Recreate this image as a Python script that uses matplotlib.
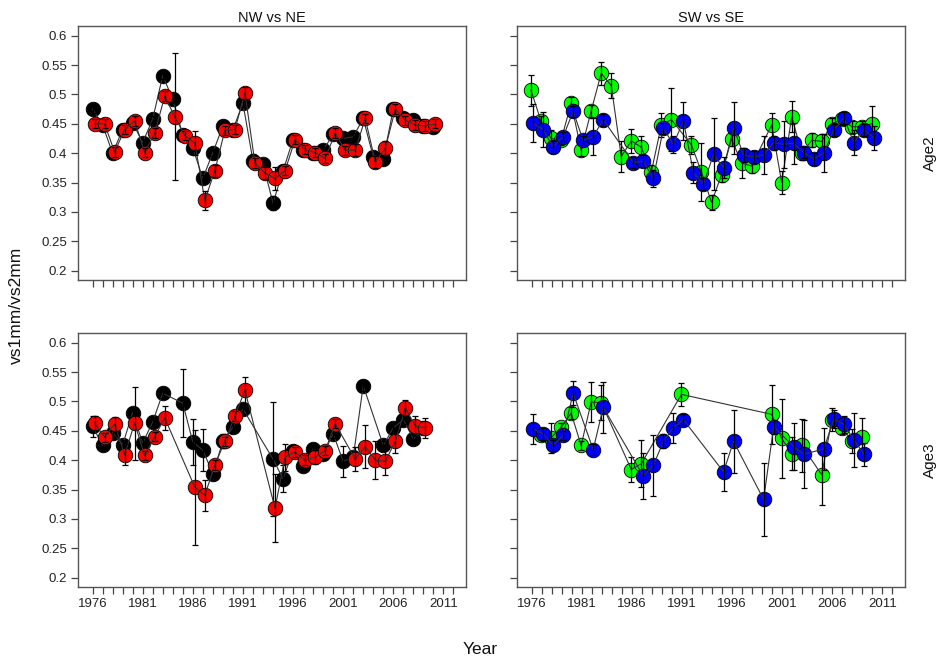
import numpy as np
import matplotlib
matplotlib.use("Agg")
import matplotlib.pyplot as plt

plt.rcParams['font.family'] = ['Liberation Sans', 'DejaVu Sans']

# ---- Age2 ----
nw2_years = list(range(1976, 2011))
nw2_vals = [0.475, 0.448, 0.400, 0.440, 0.452, 0.418, 0.458, 0.532, 0.492, 0.431,
            0.409, 0.357, 0.401, 0.446, 0.440, 0.485, 0.387, 0.382, 0.315, 0.370,
            0.423, 0.406, 0.401, 0.405, 0.432, 0.425, 0.428, 0.459, 0.394, 0.390,
            0.475, 0.460, 0.456, 0.446, 0.445]
nw2_err = [0.006, 0.006, 0.006, 0.006, 0.006, 0.006, 0.006, 0.006, 0.006, 0.006,
           0.006, 0.006, 0.006, 0.006, 0.006, 0.006, 0.012, 0.006, 0.012, 0.006,
           0.006, 0.006, 0.006, 0.006, 0.006, 0.006, 0.006, 0.006, 0.008, 0.006,
           0.006, 0.006, 0.006, 0.006, 0.006]

ne2_years = list(range(1976, 2011))
ne2_vals = [0.450, 0.450, 0.402, 0.440, 0.455, 0.401, 0.434, 0.497, 0.462, 0.430,
            0.417, 0.320, 0.370, 0.439, 0.440, 0.503, 0.383, 0.366, 0.357, 0.370,
            0.423, 0.406, 0.401, 0.391, 0.434, 0.405, 0.405, 0.459, 0.385, 0.408,
            0.475, 0.456, 0.448, 0.446, 0.450]
ne2_err = [0.008, 0.008, 0.008, 0.008, 0.008, 0.008, 0.008, 0.008, 0.108, 0.008,
           0.020, 0.016, 0.010, 0.008, 0.008, 0.010, 0.008, 0.010, 0.020, 0.008,
           0.008, 0.008, 0.008, 0.008, 0.008, 0.008, 0.010, 0.008, 0.010, 0.012,
           0.008, 0.008, 0.008, 0.008, 0.008]

sw2_years = [1976, 1977, 1978, 1979, 1980, 1981, 1982, 1983, 1984, 1985, 1986, 1987,
             1988, 1989, 1990, 1992, 1993, 1994, 1995, 1996, 1997, 1998, 2000, 2001,
             2002, 2003, 2004, 2005, 2006, 2007, 2008, 2009, 2010]
sw2_vals = [0.507, 0.454, 0.425, 0.422, 0.485, 0.405, 0.472, 0.536, 0.515, 0.394,
            0.421, 0.410, 0.368, 0.448, 0.457, 0.414, 0.368, 0.316, 0.363, 0.424,
            0.383, 0.378, 0.448, 0.350, 0.462, 0.400, 0.422, 0.420, 0.450, 0.458,
            0.445, 0.445, 0.450]
sw2_err = [0.026, 0.010, 0.015, 0.008, 0.010, 0.010, 0.010, 0.020, 0.021, 0.026,
           0.020, 0.020, 0.012, 0.020, 0.054, 0.015, 0.050, 0.012, 0.012, 0.012,
           0.025, 0.012, 0.020, 0.020, 0.026, 0.012, 0.012, 0.012, 0.010, 0.010,
           0.010, 0.010, 0.030]

se2_years = [1976, 1977, 1978, 1979, 1980, 1981, 1982, 1983, 1986, 1987, 1988, 1989,
             1990, 1991, 1992, 1993, 1994, 1995, 1996, 1997, 1998, 1999, 2000, 2001,
             2002, 2003, 2004, 2005, 2006, 2007, 2008, 2009, 2010]
se2_vals = [0.451, 0.440, 0.411, 0.428, 0.471, 0.422, 0.428, 0.457, 0.384, 0.386,
            0.357, 0.442, 0.415, 0.455, 0.367, 0.347, 0.398, 0.375, 0.443, 0.397,
            0.393, 0.397, 0.418, 0.415, 0.417, 0.401, 0.390, 0.400, 0.440, 0.460,
            0.418, 0.440, 0.426]
se2_err = [0.032, 0.030, 0.010, 0.008, 0.010, 0.008, 0.031, 0.010, 0.010, 0.010,
           0.015, 0.010, 0.015, 0.032, 0.018, 0.010, 0.061, 0.018, 0.044, 0.012,
           0.010, 0.032, 0.012, 0.040, 0.035, 0.010, 0.010, 0.032, 0.010, 0.010,
           0.022, 0.010, 0.020]

# ---- Age3 ----
nw3_years = [1976, 1977, 1978, 1979, 1980, 1981, 1982, 1983, 1985, 1986, 1987, 1988,
             1989, 1990, 1991, 1994, 1995, 1996, 1997, 1998, 1999, 2000, 2001, 2002,
             2003, 2005, 2006, 2007, 2008, 2009]
nw3_vals = [0.458, 0.425, 0.447, 0.426, 0.481, 0.429, 0.465, 0.514, 0.497, 0.431,
            0.417, 0.377, 0.432, 0.456, 0.487, 0.402, 0.368, 0.416, 0.390, 0.419,
            0.410, 0.445, 0.398, 0.405, 0.527, 0.425, 0.455, 0.469, 0.436, 0.455]
nw3_err = [0.018, 0.008, 0.008, 0.008, 0.008, 0.008, 0.008, 0.008, 0.058, 0.039,
           0.036, 0.008, 0.012, 0.008, 0.008, 0.097, 0.023, 0.008, 0.010, 0.008,
           0.008, 0.008, 0.026, 0.008, 0.010, 0.008, 0.008, 0.008, 0.008, 0.008]

ne3_years = [1976, 1977, 1978, 1979, 1980, 1981, 1982, 1983, 1986, 1987, 1988, 1989,
             1990, 1991, 1994, 1995, 1996, 1997, 1998, 1999, 2000, 2002, 2003, 2004,
             2005, 2006, 2007, 2008, 2009]
ne3_vals = [0.463, 0.439, 0.462, 0.409, 0.463, 0.408, 0.440, 0.472, 0.354, 0.340,
            0.392, 0.432, 0.475, 0.519, 0.318, 0.405, 0.414, 0.400, 0.405, 0.416,
            0.462, 0.402, 0.423, 0.400, 0.398, 0.432, 0.489, 0.458, 0.455]
ne3_err = [0.012, 0.008, 0.012, 0.018, 0.062, 0.008, 0.008, 0.020, 0.098, 0.027,
           0.008, 0.008, 0.008, 0.023, 0.058, 0.023, 0.008, 0.008, 0.012, 0.008,
           0.008, 0.020, 0.036, 0.032, 0.024, 0.020, 0.014, 0.017, 0.017]

sw3_years = [1977, 1978, 1979, 1980, 1981, 1982, 1983, 1986, 1987, 1991, 2000, 2001,
             2002, 2003, 2005, 2006, 2007, 2008, 2009]
sw3_vals = [0.442, 0.438, 0.456, 0.480, 0.425, 0.499, 0.498, 0.384, 0.394, 0.512,
            0.478, 0.437, 0.411, 0.425, 0.375, 0.469, 0.455, 0.433, 0.440]
sw3_err = [0.008, 0.025, 0.008, 0.010, 0.008, 0.034, 0.030, 0.022, 0.040, 0.020,
           0.050, 0.067, 0.028, 0.045, 0.052, 0.020, 0.010, 0.020, 0.032]

se3_years = [1976, 1977, 1978, 1979, 1980, 1982, 1983, 1987, 1988, 1989, 1990, 1991,
             1995, 1996, 1999, 2000, 2002, 2003, 2005, 2006, 2007, 2008, 2009]
se3_vals = [0.453, 0.445, 0.425, 0.442, 0.514, 0.418, 0.490, 0.373, 0.391, 0.432,
            0.455, 0.469, 0.380, 0.432, 0.333, 0.457, 0.423, 0.410, 0.419, 0.470,
            0.461, 0.435, 0.410]
se3_err = [0.025, 0.010, 0.010, 0.008, 0.020, 0.010, 0.043, 0.040, 0.052, 0.012,
           0.025, 0.010, 0.033, 0.054, 0.062, 0.012, 0.040, 0.058, 0.035, 0.015,
           0.015, 0.046, 0.020]

# panel layout: (row, col) -> list of (years, vals, err, colour, x shift)
panels = {
    (0, 0): [(nw2_years, nw2_vals, nw2_err, 'black', 0.0),
             (ne2_years, ne2_vals, ne2_err, '#FF0000', 0.2)],
    (0, 1): [(sw2_years, sw2_vals, sw2_err, '#00FF00', -0.05),
             (se2_years, se2_vals, se2_err, '#0000FF', 0.15)],
    (1, 0): [(nw3_years, nw3_vals, nw3_err, 'black', 0.0),
             (ne3_years, ne3_vals, ne3_err, '#FF0000', 0.2)],
    (1, 1): [(sw3_years, sw3_vals, sw3_err, '#00FF00', -0.05),
             (se3_years, se3_vals, se3_err, '#0000FF', 0.15)],
}
titles = ["NW vs NE", "SW vs SE"]
strips = ["Age2", "Age3"]

W, H = 943, 660
fig = plt.figure(figsize=(W / 100, H / 100), dpi=100)

lefts = [78, 517]
tops = [26, 333]
pw, ph = 388, 254

frame_col = '#555555'
for (r, c), series in panels.items():
    ax = fig.add_axes([lefts[c] / W, 1 - (tops[r] + ph) / H, pw / W, ph / H])
    z = 2
    for yrs, vals, err, col, dx in series:
        x = np.array(yrs) + dx
        ax.plot(x, vals, 'o', ms=10.5, mfc=col, mec='black', mew=0.6, zorder=z)
        ax.plot(x, vals, '-', color='#333333', lw=0.8, zorder=z + 1)
        ax.errorbar(x, vals, yerr=err, fmt='none', ecolor='black', elinewidth=0.9,
                    capsize=2.5, capthick=0.9, zorder=z + 1)
        z += 2

    ax.set_xlim(1974.55, 2013.25)
    ax.set_ylim(0.184, 0.6165)
    ax.set_xticks(np.arange(1976, 2013))
    ax.set_xticklabels([str(y) if (y - 1976) % 5 == 0 else '' for y in range(1976, 2013)])
    yt = np.arange(0.2, 0.601, 0.05)
    ax.set_yticks(yt)
    ax.set_yticklabels(['%g' % round(v, 2) for v in yt])
    ax.tick_params(direction='out', length=5, width=0.9, color='#444444',
                   labelsize=9.5, labelcolor='#222222', pad=3)
    if c == 1:
        ax.tick_params(labelleft=False)
    if r == 0:
        ax.tick_params(labelbottom=False)
        ax.set_title(titles[c], fontsize=10.5, pad=3, color='#111111')
    for sp in ax.spines.values():
        sp.set_color(frame_col)
        sp.set_linewidth(1.0)

for r in range(2):
    fig.text(930 / W, 1 - (tops[r] + ph / 2) / H, strips[r], rotation=90,
             ha='center', va='center', fontsize=11, color='#111111')

fig.text(16 / W, 1 - 305 / H, "vs1mm/vs2mm", rotation=90, ha='center', va='center',
         fontsize=12.5, color='#111111')
fig.text(480 / W, 1 - 650 / H, "Year", ha='center', va='center', fontsize=12.5,
         color='#111111')

fig.savefig('out.png', dpi=100, facecolor='white')
